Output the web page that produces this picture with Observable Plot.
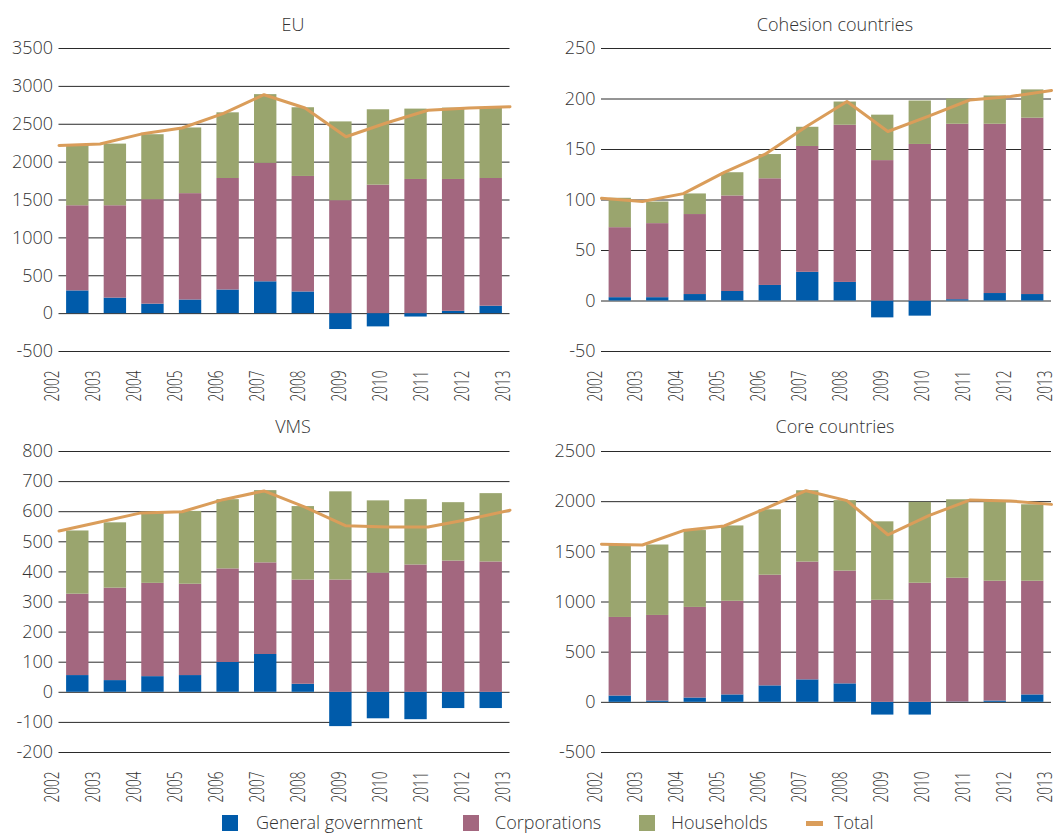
<!DOCTYPE html>
<html><head><meta charset="utf-8">
<script src="https://cdn.jsdelivr.net/npm/d3@7"></script>
<script src="https://cdn.jsdelivr.net/npm/@observablehq/plot@0.6"></script>
<style>
body{margin:0;background:#fff;font-family:"Open Sans",sans-serif;font-weight:300;color:#333}
#wrap{position:relative;width:1059px;height:834px}
.panel{position:absolute}
.title{position:absolute;font-size:18px;line-height:24px;transform:translateX(-50%);white-space:nowrap}
.lg{position:absolute;font-size:18px;line-height:20px;top:812px;white-space:nowrap}
.sw{position:absolute}
</style></head><body>
<div id="wrap">
  <div class="panel" id="p1" style="left:0;top:0"></div>
  <div class="panel" id="p2" style="left:530px;top:0"></div>
  <div class="panel" id="p3" style="left:0;top:402px"></div>
  <div class="panel" id="p4" style="left:530px;top:402px"></div>
  <div class="title" style="left:293px;top:12px">EU</div>
  <div class="title" style="left:835px;top:12px">Cohesion countries</div>
  <div class="title" style="left:293px;top:414px">VMS</div>
  <div class="title" style="left:835px;top:414px">Core countries</div>
  <div id="legend"></div>
</div>
<script>
const years = [2002, 2003, 2004, 2005, 2006, 2007, 2008, 2009, 2010, 2011, 2012, 2013];
const series = ["General government", "Corporations", "Households"];
const seriesColors = ["#005BAA", "#A3677F", "#9AA56E"];
const totalName = "Total";
const totalColor = "#DA9D5A";

// EU
const euGov   = [300, 205, 125, 180, 312, 420, 286, -210, -175, -45, 30, 98];
const euCorp  = [1124, 1219, 1379, 1404, 1472, 1564, 1525, 1491, 1696, 1771, 1741, 1686];
const euHouse = [800, 814, 858, 867, 867, 907, 907, 1040, 995, 929, 942, 938];
const euTotal = [2220, 2240, 2370, 2450, 2640, 2890, 2715, 2335, 2520, 2685, 2715, 2730];

// Cohesion countries
const coGov   = [3.3, 3.3, 6.4, 9.4, 15.4, 28.4, 18.4, -16.7, -15, 1.3, 7.4, 6.4];
const coCorp  = [69.3, 73.3, 79.2, 94.6, 105.6, 124.6, 155.6, 139, 155, 173.7, 167.6, 174.6];
const coHouse = [29.1, 21.4, 20.4, 23, 24, 19, 23, 45, 43, 25, 28, 28];
const coTotal = [101.7, 98.5, 106.3, 127.4, 145.4, 172.5, 197.5, 167.8, 183, 199, 202.5, 208.5];

// VMS
const vmGov   = [55.6, 38.9, 52, 55.6, 99, 125.6, 26.7, -114, -88, -91, -54, -54];
const vmCorp  = [270.4, 307.1, 310, 303.4, 311, 304.4, 346.3, 373, 396, 423, 436, 433];
const vmHouse = [210, 217, 236, 242, 230, 240, 244, 293, 240, 217, 194, 227];
const vmTotal = [536, 566, 596, 600, 640, 669, 615, 553, 549, 549, 575, 605];

// Core countries
const cGov   = [63, 13, 43, 74, 164, 224, 184, -127, -127, 3, 13, 74];
const cCorp  = [783, 853, 903, 933, 1103, 1174, 1124, 1017, 1187, 1234, 1194, 1133];
const cHouse = [719, 702, 766, 751, 652, 711, 702, 782, 806, 782, 793, 762];
const cTotal = [1575, 1568, 1712, 1758, 1930, 2109, 2010, 1670, 1860, 2016, 2007, 1973];

const euAxis = {domain: [-500, 3500], step: 500};
const coAxis = {domain: [-50, 250], step: 50};
const vmAxis = {domain: [-200, 800], step: 100};
const cAxis  = {domain: [-500, 2500], step: 500};

const n = years.length;

function panel(el, gov, corp, house, total, axis, lay) {
  const vals = [gov, corp, house];
  const rows = [];
  years.forEach((yr, i) => series.forEach((s, k) => rows.push({i, i2: i + 1, series: s, value: vals[k][i]})));
  // the Total line is plotted "on tick marks": first point on the left edge, last on the right edge
  const line = years.map((yr, i) => ({pos: i * n / (n - 1), total: total[i]}));
  const labels = years.map((yr, i) => ({pos: i * n / (n - 1), label: String(yr)}));
  const ticks = d3.range(axis.domain[0], axis.domain[1] + axis.step / 2, axis.step);
  const chart = Plot.plot({
    width: lay.w, height: 402,
    marginTop: lay.mt, marginBottom: lay.mb, marginLeft: lay.ml, marginRight: lay.mr,
    style: {fontFamily: '"Open Sans", sans-serif', fontWeight: 300, fontSize: "18px", color: "#333", background: "transparent", overflow: "visible"},
    x: {domain: [0, n], axis: null},
    y: {domain: axis.domain, ticks, tickFormat: d => String(d), tickSize: 0, tickPadding: 6, label: null},
    color: {domain: series, range: seriesColors},
    marks: [
      Plot.ruleY(ticks, {stroke: "#2a2a2a", strokeWidth: 1}),
      Plot.rectY(rows, Plot.stackY({x1: "i", x2: "i2", y: "value", fill: "series", insetLeft: 7.6, insetRight: 7.6})),
      Plot.line(line, {x: "pos", y: "total", stroke: totalColor, strokeWidth: 3}),
      Plot.text(labels, {x: "pos", text: "label", frameAnchor: "bottom", rotate: -90, textAnchor: "end", dy: 19, fontSize: 20, fill: "#333"})
    ]
  });
  chart.querySelectorAll('g[aria-label="text"] text').forEach(t => {
    const tr = t.getAttribute("transform") || "";
    t.setAttribute("transform", tr + " scale(0.68,1)");
  });
  document.getElementById(el).appendChild(chart);
}

const layL = {w: 530, ml: 58.5, mr: 20.5};
const layR = {w: 529, ml: 71, mr: 8};
panel("p1", euGov, euCorp, euHouse, euTotal, euAxis, {...layL, mt: 48, mb: 51});
panel("p2", coGov, coCorp, coHouse, coTotal, coAxis, {...layR, mt: 48, mb: 51});
panel("p3", vmGov, vmCorp, vmHouse, vmTotal, vmAxis, {...layL, mt: 49, mb: 52});
panel("p4", cGov, cCorp, cHouse, cTotal, cAxis, {...layR, mt: 49, mb: 52});

// legend
const lg = document.getElementById("legend");
const items = [
  {name: series[0], color: seriesColors[0], sx: 222, tx: 256, kind: "box"},
  {name: series[1], color: seriesColors[1], sx: 463, tx: 495, kind: "box"},
  {name: series[2], color: seriesColors[2], sx: 639, tx: 671, kind: "box"},
  {name: totalName, color: totalColor, sx: 806, tx: 834, kind: "dash"}
];
items.forEach(it => {
  const sw = document.createElement("div");
  sw.className = "sw";
  sw.style.background = it.color;
  sw.style.left = it.sx + "px";
  if (it.kind === "box") { sw.style.top = "815px"; sw.style.width = "16px"; sw.style.height = "16px"; }
  else { sw.style.top = "821px"; sw.style.width = "17px"; sw.style.height = "5px"; }
  lg.appendChild(sw);
  const tx = document.createElement("div");
  tx.className = "lg";
  tx.style.left = it.tx + "px";
  tx.textContent = it.name;
  lg.appendChild(tx);
});
</script>
</body></html>
